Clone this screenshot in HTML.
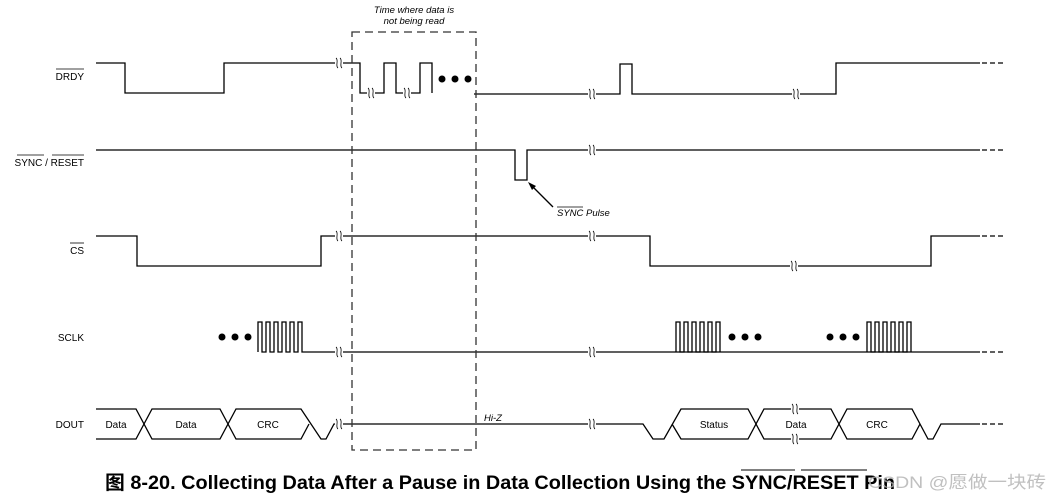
<!DOCTYPE html>
<html><head><meta charset="utf-8"><style>
html,body{margin:0;padding:0;background:#fff;}
svg{display:block;}
text{font-family:"Liberation Sans","Noto Sans CJK SC",sans-serif;}
</style></head><body>
<svg width="1052" height="497" viewBox="0 0 1052 497" xmlns="http://www.w3.org/2000/svg">
<defs>
<g id="brkw"><rect x="-5" y="-2" width="8" height="4" fill="#fff"/><path d="M-4,-5 C-1,-3 -5,3 -2,5 M0,-5 C3,-3 -1,3 2,5" fill="none" stroke="#000" stroke-width="0.8"/></g>
</defs>
<g fill="none" stroke="#000" stroke-width="1.3">
<polyline points="96,63 125,63 125,93 224,93 224,63 360,63 360,93 384,93 384,63 396,63 396,93 420,93 420,63 432,63 432,93"/>
<polyline points="474,94 620,94 620,64 632,64 632,94 836,94 836,63 980,63"/>
<path d="M982,63 H1004" stroke-dasharray="5,3"/>
<polyline points="96,150 515,150 515,180 527,180 527,150 980,150"/>
<path d="M982,150 H1004" stroke-dasharray="5,3"/>
<polyline points="96,236 137,236 137,266 321,266 321,236 650,236 650,266 931,266 931,236 980,236"/>
<path d="M982,236 H1004" stroke-dasharray="5,3"/>
<polyline points="258,352 258,322 262,322 262,352 266,352 266,322 270,322 270,352 274,352 274,322 278,322 278,352 282,352 282,322 286,322 286,352 290,352 290,322 294,322 294,352 298,352 298,322 302,322 302,352 980,352"/>
<path d="M982,352 H1004" stroke-dasharray="5,3"/>
<polyline points="676,352 676,322 680,322 680,352 684,352 684,322 688,322 688,352 692,352 692,322 696,322 696,352 700,352 700,322 704,322 704,352 708,352 708,322 712,322 712,352 716,352 716,322 720,322 720,352"/>
<polyline points="867,352 867,322 871,322 871,352 875,352 875,322 879,322 879,352 883,352 883,322 887,322 887,352 891,352 891,322 895,322 895,352 899,352 899,322 903,322 903,352 907,352 907,322 911,322 911,352"/>
<polyline points="96,409 136,409 152,439 220,439 236,409 301,409 321,439 326,439 334,424 643,424 653,439 664,439 681,409 748,409 764,439 831,439 847,409 912,409 928,439 933,439 941,424 980,424"/>
<polyline points="96,439 136,439 152,409 220,409 236,439 301,439 309,424"/>
<polyline points="672,424 681,439 748,439 764,409 831,409 847,439 912,439 920,424"/>
<path d="M982,424 H1004" stroke-dasharray="5,3"/>
<path d="M553,207 L530,184"/>
</g>
<path d="M528,182 L536,186 L532,190 Z" fill="#000"/>
<rect x="352" y="32" width="124" height="418" fill="none" stroke="#333" stroke-width="1.3" stroke-dasharray="8,5"/>
<use href="#brkw" x="340" y="63"/><use href="#brkw" x="372" y="93"/><use href="#brkw" x="408" y="93"/>
<use href="#brkw" x="593" y="94"/><use href="#brkw" x="797" y="94"/>
<use href="#brkw" x="593" y="150"/>
<use href="#brkw" x="340" y="236"/><use href="#brkw" x="593" y="236"/><use href="#brkw" x="795" y="266"/>
<use href="#brkw" x="340" y="352"/><use href="#brkw" x="593" y="352"/>
<use href="#brkw" x="340" y="424"/><use href="#brkw" x="593" y="424"/>
<use href="#brkw" x="796" y="409"/><use href="#brkw" x="796" y="439"/>
<g fill="#000">
<circle cx="442" cy="79" r="3.5"/><circle cx="455" cy="79" r="3.5"/><circle cx="468" cy="79" r="3.5"/>
<circle cx="222" cy="337" r="3.5"/><circle cx="235" cy="337" r="3.5"/><circle cx="248" cy="337" r="3.5"/>
<circle cx="732" cy="337" r="3.5"/><circle cx="745" cy="337" r="3.5"/><circle cx="758" cy="337" r="3.5"/>
<circle cx="830" cy="337" r="3.5"/><circle cx="843" cy="337" r="3.5"/><circle cx="856" cy="337" r="3.5"/>
</g>
<g font-size="10" fill="#000" text-anchor="end">
<text x="84" y="80">DRDY</text>
<text x="84" y="166">SYNC / RESET</text>
<text x="84" y="254">CS</text>
<text x="84" y="341">SCLK</text>
<text x="84" y="428">DOUT</text>
</g>
<g stroke="#000" stroke-width="0.8">
<line x1="56" y1="69" x2="84" y2="69"/>
<line x1="17" y1="155" x2="44" y2="155"/>
<line x1="52" y1="155" x2="84" y2="155"/>
<line x1="70" y1="243" x2="84" y2="243"/>
<line x1="557" y1="207" x2="583" y2="207"/>
</g>
<g font-size="10" fill="#000" text-anchor="middle">
<text x="116" y="428">Data</text>
<text x="186" y="428">Data</text>
<text x="268" y="428">CRC</text>
<text x="714" y="428">Status</text>
<text x="796" y="428">Data</text>
<text x="877" y="428">CRC</text>
</g>
<g font-size="9.5" font-style="italic" fill="#000">
<text x="414" y="13" text-anchor="middle">Time where data is</text>
<text x="414" y="24" text-anchor="middle">not being read</text>
<text x="484" y="421">Hi-Z</text>
<text x="557" y="216">SYNC Pulse</text>
</g>
<text x="105" y="489" font-size="19" font-weight="bold" fill="#000" textLength="790" lengthAdjust="spacingAndGlyphs">图 8-20. Collecting Data After a Pause in Data Collection Using the SYNC/RESET Pin</text>
<g stroke="#000" stroke-width="1"><line x1="741" y1="470" x2="795" y2="470"/><line x1="801" y1="470" x2="867" y2="470"/></g>
<text x="868" y="488" font-size="17" fill="#b0b0b0" fill-opacity="0.8" textLength="178" lengthAdjust="spacingAndGlyphs">CSDN @愿做一块砖</text>
</svg>
</body></html>
